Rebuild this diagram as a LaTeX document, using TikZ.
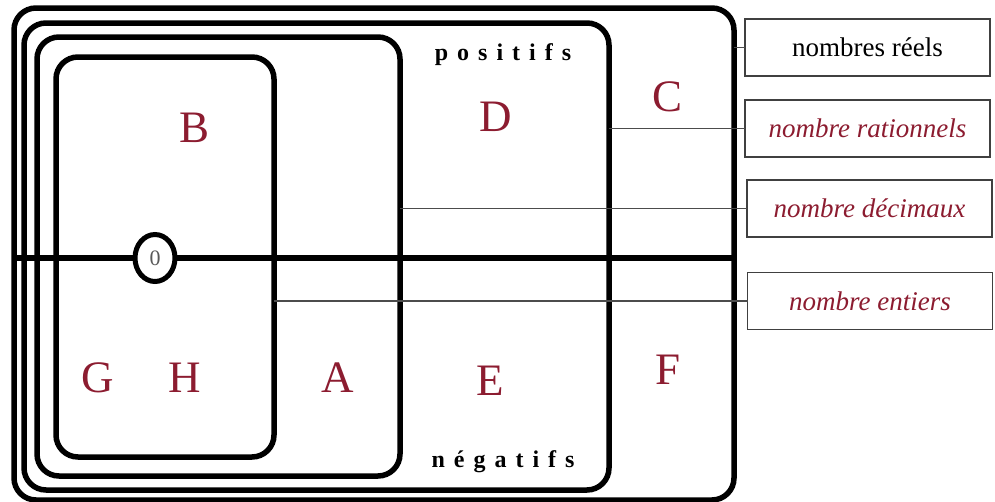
\documentclass[tikz,border=0pt]{standalone}
\usepackage{fontspec}
\setmainfont{Liberation Serif}
\usetikzlibrary{shapes.geometric}
\definecolor{bordeaux}{RGB}{140,28,48}
\newcommand{\ecart}{\kern9pt}
\begin{document}
\begin{tikzpicture}[x=1pt,y=-1pt,
  ensemble/.style={draw,line width=5.5pt,rounded corners=22pt,inner sep=0pt,outer sep=0pt},
  etiquette/.style={draw=black!75,line width=1.3pt,minimum width=245pt,minimum height=57pt,inner sep=0pt,outer sep=0pt,font=\fontsize{27}{30}\selectfont},
  lettre/.style={text=bordeaux,font=\fontsize{45}{50}\selectfont},
  fil/.style={draw=black!70,line width=1.3pt},
  signe/.style={font=\bfseries\fontsize{24}{28}\selectfont,anchor=base}]
\useasboundingbox (0,0) rectangle (995,501);
\node[ensemble,minimum width=720pt,minimum height=492pt] (reels) at (374,254) {};
\node[ensemble,minimum width=585pt,minimum height=467pt] (rationnels) at (316.5,256.5) {};
\node[ensemble,minimum width=363pt,minimum height=439pt] (decimaux) at (218.5,256.5) {};
\node[ensemble,minimum width=218pt,minimum height=400pt] (entiers) at (165,257) {};
\coordinate (axe) at (155,258);
\draw[line width=6pt] (reels.west |- axe) -- (reels.east |- axe);
\node[ellipse,draw,line width=5pt,fill=white,minimum width=40pt,minimum height=47pt,inner sep=0pt,text=black!65,font=\fontsize{22}{24}\selectfont] (zero) at (axe) {0};
\node[etiquette] (lreels) at (867.5,47.5) {nombres réels};
\node[etiquette,text=bordeaux] (lrat) at (867.5,128.5) {\itshape nombre rationnels};
\node[etiquette,text=bordeaux] (ldec) at (869.5,208.5) {\itshape nombre décimaux};
\node[etiquette,text=bordeaux] (lent) at (870,301) {\itshape nombre entiers};
\draw[fil] (lreels.west) -- (lreels.west -| reels.east);
\draw[fil] (lrat.west) -- (lrat.west -| rationnels.east);
\draw[fil] (ldec.west) -- (ldec.west -| decimaux.east);
\draw[fil] (lent.west) -- (lent.west -| entiers.east);
\node[signe] (pos) at (503,60) {p\ecart o\ecart s\ecart i\ecart t\ecart i\ecart f\ecart s};
\node[signe] (neg) at (503,467) {n\ecart é\ecart g\ecart a\ecart t\ecart i\ecart f\ecart s};
\node[lettre] (B) at (195,128) {B}; \node[lettre] (D) at (496,117) {D}; \node[lettre] (C) at (667,97) {C};
\node[lettre] (G) at (98,378) {G}; \node[lettre] (H) at (185,378) {H}; \node[lettre] (A) at (338,378) {A};
\node[lettre] (E) at (490,381) {E}; \node[lettre] (F) at (668,370) {F};
\end{tikzpicture}
\end{document}
